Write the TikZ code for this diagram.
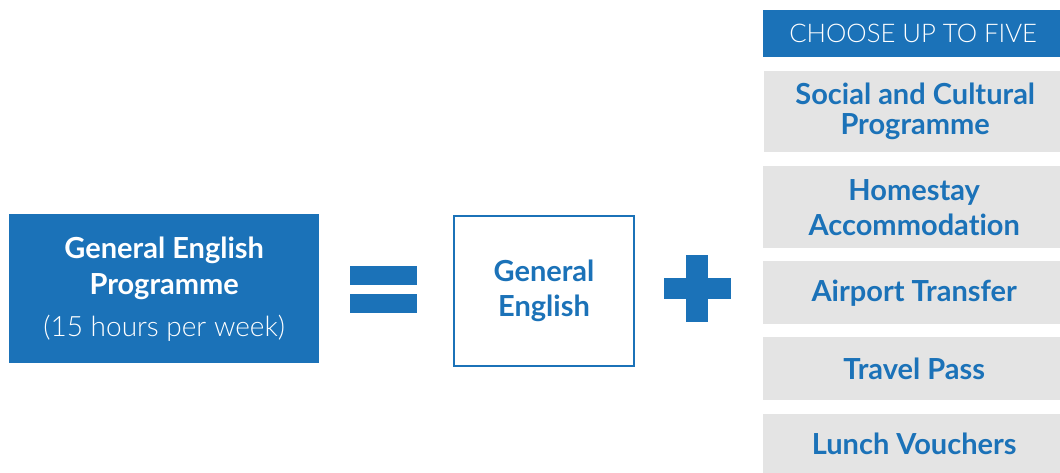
\documentclass[tikz,border=0pt]{standalone}
\usepackage{fontspec}
\setmainfont{Lato}[Ligatures=NoCommon]
\newfontfamily\lightfont{Lato Light}[Ligatures=NoCommon]
\definecolor{brandblue}{HTML}{1B72B8}
\definecolor{boxgray}{HTML}{E4E4E4}
\begin{document}
\begin{tikzpicture}[x=1pt,y=-1pt,
  bluebox/.style={fill=brandblue,draw=none,inner sep=0pt,anchor=north west,align=center,text=white},
  outlinebox/.style={draw=brandblue,line width=2pt,fill=white,inner sep=0pt,anchor=north west,align=center,text=brandblue},
  optbox/.style={fill=boxgray,draw=none,inner sep=0pt,anchor=north west,align=center,text=brandblue,
     minimum width=302pt,font=\bfseries\fontsize{29}{34}\selectfont},
  symbar/.style={fill=brandblue,draw=none}]
\useasboundingbox (0,0) rectangle (1060,473);
% left box
\node[bluebox,minimum width=310pt,minimum height=149pt] (prog) at (9,214) {};
\node[text=white,align=center,inner sep=0pt,font=\bfseries\fontsize{29}{36}\selectfont] (progtxt) at (prog.center)
  {General English\\Programme\\[6pt]{\mdseries\lightfont\fontsize{28}{30}\selectfont (15 hours per week)}};
% equals
\fill[symbar] (350,266) rectangle (417,285);
\fill[symbar] (350,294) rectangle (417,313);
% middle box
\node[outlinebox,minimum width=180pt,minimum height=150pt] (ge) at (453,215) {};
\node[text=brandblue,align=center,inner sep=0pt,font=\bfseries\fontsize{29}{35}\selectfont] (getxt) at (ge.center)
  {General\\English};
% plus
\fill[symbar] (664,278) rectangle (731,299);
\fill[symbar] (686,255) rectangle (708,322);
% right column
\node[bluebox,minimum width=300pt,minimum height=47pt,font=\lightfont\fontsize{25.7}{30}\selectfont] (head) at (763,10) {CHOOSE UP TO FIVE};
\node[optbox,minimum height=81pt,font=\bfseries\fontsize{29}{30}\selectfont] (social) at (764,71) {Social and Cultural\\Programme};
\node[optbox,minimum height=82pt,font=\bfseries\fontsize{29}{35}\selectfont] (home) at (763,166) {Homestay\\Accommodation};
\node[optbox,minimum height=63pt] (air) at (763,261) {Airport Transfer};
\node[optbox,minimum height=63pt] (travel) at (763,337) {Travel Pass};
\node[optbox,minimum height=59pt] (lunch) at (763,414) {Lunch Vouchers};
\end{tikzpicture}
\end{document}
